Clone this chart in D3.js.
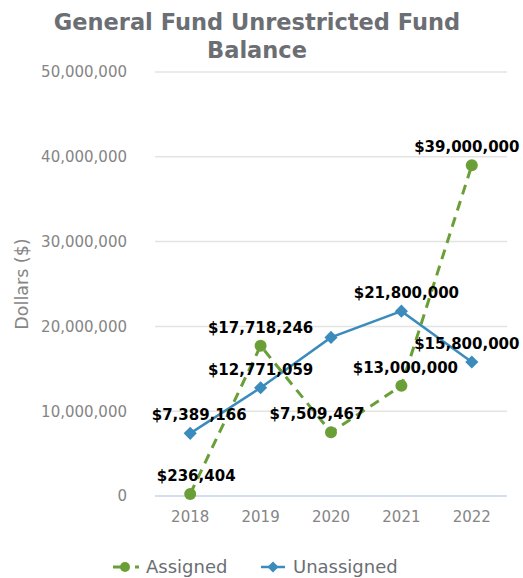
<!DOCTYPE html>
<html>
<head>
<meta charset="utf-8">
<script src="https://cdn.jsdelivr.net/npm/d3@7"></script>
<style>
  html, body { margin: 0; padding: 0; background: #fff; }
  svg { display: block; }
</style>
</head>
<body>
<svg id="chart" width="523" height="578"></svg>
<script>
// Fiscal years on the x axis
const years = ["2018", "2019", "2020", "2021", "2022"];
// Assigned fund balance per year
const assigned = [236404, 17718246, 7509467, 13000000, 39000000];
// Unassigned fund balance per year (2020 is plotted without a label)
const unassigned = [7389166, 12771059, 18700000, 21800000, 15800000];
const unassignedLabeled = [true, true, false, true, true];
// Y axis ticks
const yTicks = [0, 10000000, 20000000, 30000000, 40000000, 50000000];

const GREEN = "#6a9f38";
const BLUE = "#3b8bbd";
const FONT = "'DejaVu Sans', sans-serif";

const svg = d3.select("#chart");
const margin = { left: 155, right: 16, top: 72, bottom: 82 };
const W = 523, H = 578;

const x = d3.scaleBand().domain(years).range([margin.left, W - margin.right]);
const y = d3.scaleLinear().domain([0, 50000000]).range([H - margin.bottom, margin.top]);
const cx = d => x(d) + x.bandwidth() / 2;

// Title
svg.append("text")
  .attr("x", 257).attr("y", 30)
  .attr("text-anchor", "middle")
  .attr("font-family", FONT).attr("font-weight", "bold")
  .attr("font-size", 22.5).attr("fill", "#6b6e73")
  .text("General Fund Unrestricted Fund");
svg.append("text")
  .attr("x", 257).attr("y", 58)
  .attr("text-anchor", "middle")
  .attr("font-family", FONT).attr("font-weight", "bold")
  .attr("font-size", 22.5).attr("fill", "#6b6e73")
  .text("Balance");

// Horizontal gridlines
svg.append("g").selectAll("line")
  .data(yTicks.filter(t => t > 0))
  .join("line")
  .attr("x1", margin.left).attr("x2", W - margin.right)
  .attr("y1", d => y(d)).attr("y2", d => y(d))
  .attr("stroke", "#e3e3e3").attr("stroke-width", 1.5);

// Y axis labels
const yAxis = svg.append("g")
  .attr("transform", `translate(${margin.left - 25},0)`)
  .call(d3.axisLeft(y).tickValues(yTicks).tickFormat(d3.format(",")).tickSize(0));
yAxis.select(".domain").remove();
yAxis.selectAll("text")
  .attr("font-family", FONT).attr("font-size", 15).attr("fill", "#858585");

// Zero baseline
svg.append("line")
  .attr("x1", margin.left).attr("x2", W - margin.right)
  .attr("y1", y(0)).attr("y2", y(0))
  .attr("stroke", "#c5d3ea").attr("stroke-width", 1.5);

// X axis labels
const xAxis = svg.append("g")
  .attr("transform", `translate(0,${y(0) + 12})`)
  .call(d3.axisBottom(x).tickSize(0));
xAxis.select(".domain").remove();
xAxis.selectAll("text")
  .attr("font-family", FONT).attr("font-size", 15).attr("fill", "#858585");

// Y axis title
svg.append("text")
  .attr("transform", "translate(28,284) rotate(-90)")
  .attr("text-anchor", "middle")
  .attr("font-family", FONT).attr("font-size", 17.5).attr("fill", "#858585")
  .text("Dollars ($)");

const line = d3.line().x((d, i) => cx(years[i])).y(d => y(d));

// Unassigned series
svg.append("path")
  .attr("d", line(unassigned))
  .attr("fill", "none").attr("stroke", BLUE).attr("stroke-width", 2.5);
svg.append("g").selectAll("path")
  .data(unassigned)
  .join("path")
  .attr("d", d3.symbol(d3.symbolDiamond2, 110))
  .attr("transform", (d, i) => `translate(${cx(years[i])},${y(d)})`)
  .attr("fill", BLUE);

// Assigned series
svg.append("path")
  .attr("d", line(assigned))
  .attr("fill", "none").attr("stroke", GREEN).attr("stroke-width", 3)
  .attr("stroke-dasharray", "10,7");
svg.append("g").selectAll("circle")
  .data(assigned)
  .join("circle")
  .attr("cx", (d, i) => cx(years[i])).attr("cy", d => y(d))
  .attr("r", 6).attr("fill", GREEN);

// Value labels
const fmt = d => "$" + d3.format(",")(d);
const labelAttrs = sel => sel
  .attr("font-family", FONT).attr("font-weight", "bold")
  .attr("font-size", 15).attr("fill", "#000")
  .attr("text-anchor", "middle");

const assignedDx = [6, 0, -14, 4, -5];
svg.append("g").selectAll("text")
  .data(assigned)
  .join("text")
  .call(labelAttrs)
  .attr("x", (d, i) => cx(years[i]) + assignedDx[i])
  .attr("y", d => y(d) - 13)
  .text(fmt);

const unassignedDx = [9, 0, 0, 5, -5];
svg.append("g").selectAll("text")
  .data(unassigned.map((v, i) => ({ v, i })).filter(d => unassignedLabeled[d.i]))
  .join("text")
  .call(labelAttrs)
  .attr("x", d => cx(years[d.i]) + unassignedDx[d.i])
  .attr("y", d => y(d.v) - 13)
  .text(d => fmt(d.v));

// Legend
const leg = svg.append("g").attr("transform", "translate(0,567)");
leg.append("line").attr("x1", 113).attr("x2", 129).attr("y1", 0).attr("y2", 0)
  .attr("stroke", GREEN).attr("stroke-width", 3);
leg.append("line").attr("x1", 135).attr("x2", 139).attr("y1", 0).attr("y2", 0)
  .attr("stroke", GREEN).attr("stroke-width", 3);
leg.append("circle").attr("cx", 125).attr("cy", 0).attr("r", 5).attr("fill", GREEN);
leg.append("text").attr("x", 146).attr("y", 6)
  .attr("font-family", FONT).attr("font-size", 18).attr("fill", "#6b6e73")
  .text("Assigned");
leg.append("line").attr("x1", 261).attr("x2", 285).attr("y1", 0).attr("y2", 0)
  .attr("stroke", BLUE).attr("stroke-width", 2.5);
leg.append("path").attr("d", d3.symbol(d3.symbolDiamond2, 80))
  .attr("transform", "translate(273,0)").attr("fill", BLUE);
leg.append("text").attr("x", 293).attr("y", 6)
  .attr("font-family", FONT).attr("font-size", 18).attr("fill", "#6b6e73")
  .text("Unassigned");
</script>
</body>
</html>
